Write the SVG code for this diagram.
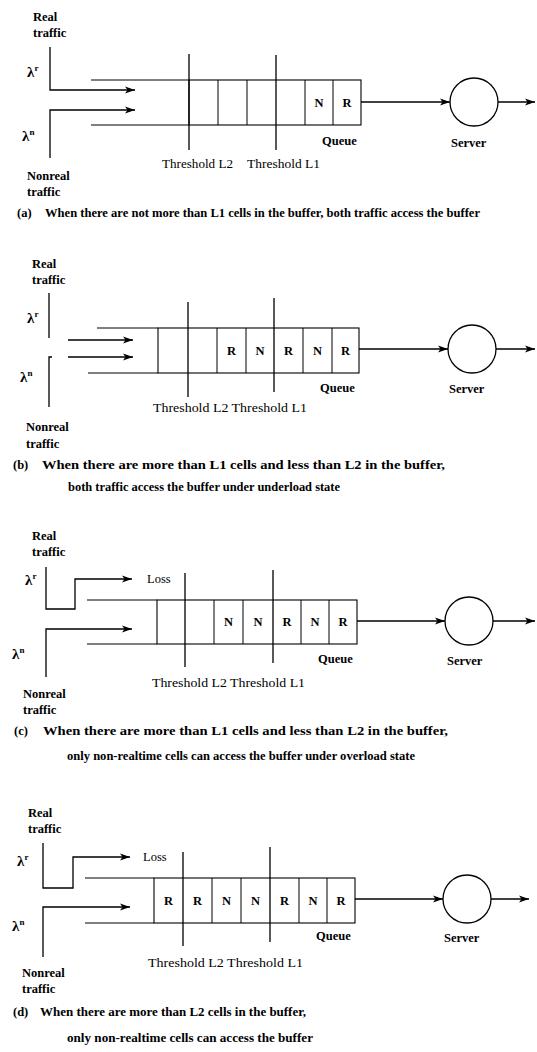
<svg xmlns="http://www.w3.org/2000/svg" width="537" height="1052" viewBox="0 0 537 1052">
<style>
.t{font-family:"Liberation Serif",serif;font-size:12.5px;fill:#000}
.b{font-weight:bold}
.cap{font-family:"Liberation Serif",serif;font-size:12.5px;font-weight:bold;fill:#000}
.ln{stroke:#000;stroke-width:1.3;fill:none}
.wall{stroke:#000;stroke-width:1;fill:none}
.box{stroke:#000;stroke-width:1.1;fill:#fff}
.cell{font-family:"Liberation Serif",serif;font-size:12.5px;font-weight:bold;fill:#000;text-anchor:middle}
.lam{font-family:"Liberation Serif",serif;font-size:15px;font-weight:bold;fill:#000}
.sup{font-size:9px}
</style>
<defs>
<marker id="ar" markerUnits="userSpaceOnUse" markerWidth="11" markerHeight="8" refX="10" refY="4" orient="auto">
<path d="M0,0.5 L10,4 L0,7.5 L2.5,4 z" fill="#000"/>
</marker>
</defs>

<!-- Panel (a) -->
<g id="a-real">
<text class="t b" x="33" y="21">Real</text>
<text class="t b" x="33" y="37">traffic</text>
<text class="lam" x="27" y="77">λ<tspan class="sup" dy="-6">r</tspan></text>
</g>
<g id="a-nonreal">
<text class="lam" x="22" y="141">λ<tspan class="sup" dy="-6">n</tspan></text>
<text class="t b" x="27" y="180">Nonreal</text>
<text class="t b" x="27" y="196">traffic</text>
</g>
<g id="a-queue">
<rect class="box" x="189" y="80" width="172" height="45"/>
<path class="wall" d="M218,80V125M247,80V125M305,80V125M333,80V125"/>
<text class="cell" x="319" y="107">N</text>
<text class="cell" x="347" y="107">R</text>
<text class="t b" x="322" y="145">Queue</text>
</g>
<g id="a-thresholds">
<path class="ln" d="M189,54V150M276,55V150"/>
<text class="t" x="162" y="168" textLength="71" lengthAdjust="spacingAndGlyphs">Threshold L2</text>
<text class="t" x="247" y="168" textLength="73" lengthAdjust="spacingAndGlyphs">Threshold L1</text>
</g>
<g id="a-server">
<circle class="ln" cx="474" cy="102" r="24"/>
<text class="t b" x="451" y="147">Server</text>
</g>
<g id="a-connectors">
<path class="ln" d="M50,47V90H135" marker-end="url(#ar)"/>
<path class="ln" d="M50,158V110H135" marker-end="url(#ar)"/>
<path class="wall" d="M91,80H189M91,125H189"/>
<path class="ln" d="M361,102H450" marker-end="url(#ar)"/>
<path class="ln" d="M498,102H535" marker-end="url(#ar)"/>
</g>
<g id="a-caption">
<text class="cap" x="17" y="217">(a)</text>
<text class="cap" x="45" y="217" textLength="435" lengthAdjust="spacingAndGlyphs">When there are not more than L1 cells in the buffer, both traffic access the buffer</text>
</g>

<!-- Panel (b) -->
<g id="b-real">
<text class="t b" x="32" y="268">Real</text>
<text class="t b" x="32" y="284">traffic</text>
<text class="lam" x="27" y="323">λ<tspan class="sup" dy="-6">r</tspan></text>
</g>
<g id="b-nonreal">
<text class="lam" x="20" y="382">λ<tspan class="sup" dy="-6">n</tspan></text>
<text class="t b" x="26" y="431">Nonreal</text>
<text class="t b" x="26" y="448">traffic</text>
</g>
<g id="b-queue">
<rect class="box" x="158" y="328" width="201" height="45"/>
<path class="wall" d="M217,328V373M246,328V373M303,328V373M332,328V373"/>
<text class="cell" x="231.5" y="355">R</text>
<text class="cell" x="260" y="355">N</text>
<text class="cell" x="288.5" y="355">R</text>
<text class="cell" x="317.5" y="355">N</text>
<text class="cell" x="345.5" y="355">R</text>
<text class="t b" x="320" y="392">Queue</text>
</g>
<g id="b-thresholds">
<path class="ln" d="M188,302V397M274,298V392"/>
<text class="t" x="153" y="412" textLength="154" lengthAdjust="spacingAndGlyphs">Threshold L2 Threshold L1</text>
</g>
<g id="b-server">
<circle class="ln" cx="472" cy="349" r="24"/>
<text class="t b" x="449" y="393">Server</text>
</g>
<g id="b-connectors">
<path class="ln" d="M49,293V338"/>
<path class="ln" d="M68,340H133" marker-end="url(#ar)"/>
<path class="ln" d="M68,357H133" marker-end="url(#ar)"/>
<path class="ln" d="M52,357H49V407"/>
<path class="wall" d="M97,328H158M88,373H158"/>
<path class="ln" d="M359,349H448" marker-end="url(#ar)"/>
<path class="ln" d="M496,349H535" marker-end="url(#ar)"/>
</g>
<g id="b-caption">
<text class="cap" x="13" y="469">(b)</text>
<text class="cap" x="42" y="469" textLength="403" lengthAdjust="spacingAndGlyphs">When there are more than L1 cells and less than L2 in the buffer,</text>
<text class="cap" x="68" y="491" textLength="272" lengthAdjust="spacingAndGlyphs">both traffic access the buffer under underload state</text>
</g>

<!-- Panel (c) -->
<g id="c-real">
<text class="t b" x="32" y="540">Real</text>
<text class="t b" x="32" y="556">traffic</text>
<text class="lam" x="25" y="585">λ<tspan class="sup" dy="-6">r</tspan></text>
<text class="t" x="147" y="583">Loss</text>
</g>
<g id="c-nonreal">
<text class="lam" x="12" y="659">λ<tspan class="sup" dy="-6">n</tspan></text>
<text class="t b" x="23" y="698">Nonreal</text>
<text class="t b" x="23" y="714">traffic</text>
</g>
<g id="c-queue">
<rect class="box" x="157" y="600" width="200" height="44"/>
<path class="wall" d="M214,600V644M243,600V644M301,600V644M329,600V644"/>
<text class="cell" x="228.5" y="626">N</text>
<text class="cell" x="258" y="626">N</text>
<text class="cell" x="287" y="626">R</text>
<text class="cell" x="315" y="626">N</text>
<text class="cell" x="343" y="626">R</text>
<text class="t b" x="318" y="663">Queue</text>
</g>
<g id="c-thresholds">
<path class="ln" d="M185,573V667M273,570V663"/>
<text class="t" x="152" y="687" textLength="153" lengthAdjust="spacingAndGlyphs">Threshold L2 Threshold L1</text>
</g>
<g id="c-server">
<circle class="ln" cx="469" cy="621" r="24"/>
<text class="t b" x="447" y="665">Server</text>
</g>
<g id="c-connectors">
<path class="ln" d="M46,567V609H75V579H132" marker-end="url(#ar)"/>
<path class="ln" d="M46,677V629H132" marker-end="url(#ar)"/>
<path class="wall" d="M87,600H157M87,644H157"/>
<path class="ln" d="M357,621H445" marker-end="url(#ar)"/>
<path class="ln" d="M493,621H535" marker-end="url(#ar)"/>
</g>
<g id="c-caption">
<text class="cap" x="14" y="735">(c)</text>
<text class="cap" x="43" y="735" textLength="405" lengthAdjust="spacingAndGlyphs">When there are more than L1 cells and less than L2 in the buffer,</text>
<text class="cap" x="67" y="760" textLength="348" lengthAdjust="spacingAndGlyphs">only non-realtime cells can access the buffer under overload state</text>
</g>

<!-- Panel (d) -->
<g id="d-real">
<text class="t b" x="28" y="817">Real</text>
<text class="t b" x="28" y="833">traffic</text>
<text class="lam" x="17" y="866">λ<tspan class="sup" dy="-6">r</tspan></text>
<text class="t" x="143" y="861">Loss</text>
</g>
<g id="d-nonreal">
<text class="lam" x="12" y="931">λ<tspan class="sup" dy="-6">n</tspan></text>
<text class="t b" x="22" y="977">Nonreal</text>
<text class="t b" x="22" y="993">traffic</text>
</g>
<g id="d-queue">
<rect class="box" x="154" y="878" width="201" height="45"/>
<path class="wall" d="M212,878V923M241,878V923M299,878V923M327,878V923"/>
<text class="cell" x="168.5" y="905">R</text>
<text class="cell" x="197.5" y="905">R</text>
<text class="cell" x="226.5" y="905">N</text>
<text class="cell" x="255.5" y="905">N</text>
<text class="cell" x="284.5" y="905">R</text>
<text class="cell" x="313" y="905">N</text>
<text class="cell" x="341" y="905">R</text>
<text class="t b" x="316" y="940">Queue</text>
</g>
<g id="d-thresholds">
<path class="ln" d="M183,852V946M270,847V942"/>
<text class="t" x="148" y="967" textLength="155" lengthAdjust="spacingAndGlyphs">Threshold L2 Threshold L1</text>
</g>
<g id="d-server">
<circle class="ln" cx="467" cy="899" r="24"/>
<text class="t b" x="444" y="942">Server</text>
</g>
<g id="d-connectors">
<path class="ln" d="M43,843V888H73V857H130" marker-end="url(#ar)"/>
<path class="ln" d="M43,957V907H130" marker-end="url(#ar)"/>
<path class="wall" d="M85,878H154M85,923H154"/>
<path class="ln" d="M355,899H443" marker-end="url(#ar)"/>
<path class="ln" d="M491,899H529" marker-end="url(#ar)"/>
</g>
<g id="d-caption">
<text class="cap" x="13" y="1016">(d)</text>
<text class="cap" x="40" y="1016" textLength="266" lengthAdjust="spacingAndGlyphs">When there are more than L2 cells in the buffer,</text>
<text class="cap" x="67" y="1042" textLength="246" lengthAdjust="spacingAndGlyphs">only non-realtime cells can access the buffer</text>
</g>
</svg>
